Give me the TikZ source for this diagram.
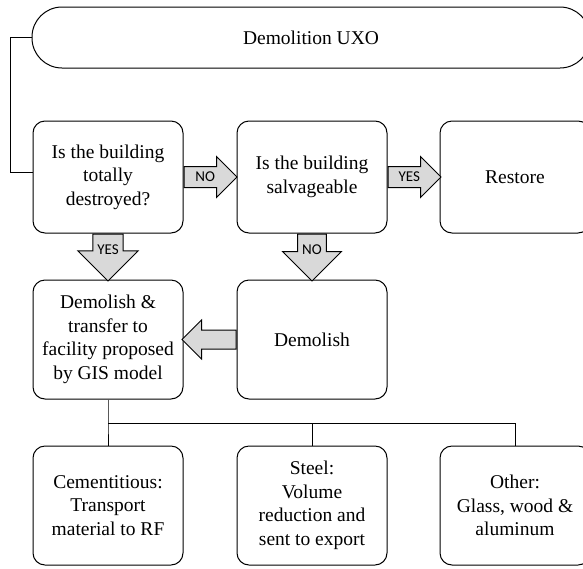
\documentclass[tikz,border=0pt]{standalone}
\usepackage{fontspec}
\setmainfont{Liberation Serif}
\newfontfamily\lblfont{Carlito}
\usetikzlibrary{shapes.arrows,calc}

\begin{document}
\begin{tikzpicture}[x=1pt, y=-1pt, line width=1pt,
	every node/.style={font=\fontsize{19.5}{23.5}\selectfont, align=center, inner sep=2pt},
	box/.style={draw, rounded corners=12pt, minimum width=150pt, minimum height=#1},
	box/.default=119pt,
	fatarrow/.style={single arrow, draw, fill=gray!30, font=\lblfont\fontsize{15}{15}\selectfont,
		single arrow head extend=10pt, text height=9pt, text depth=0pt, inner xsep=4pt, inner ysep=5.5pt,
		minimum height=#1}]
	\useasboundingbox (0,0) rectangle (583,568);

	\node (uxo) [draw, rounded corners=30pt, minimum width=558pt, minimum height=61pt] at (311,37.5) {Demolition UXO};

	\node (destroyed) [box=112pt] at (108,177) {Is the building\\totally\\destroyed?};
	\node (salvage)   [box=112pt] at (312,177) {Is the building\\salvageable};
	\node (restore)   [box=112pt] at (515,177) {Restore};

	\node (transfer)  [box] at (108,339.5) {Demolish \&\\transfer to\\facility proposed\\by GIS model};
	\node (demolish)  [box] at (312,339.5) {Demolish};

	\node (cement)    [box] at (108,505.5) {Cementitious:\\Transport\\material to RF};
	\node (steel)     [box] at (312,505.5) {Steel:\\Volume\\reduction and\\sent to export};
	\node (other)     [box] at (515,505.5) {Other:\\Glass, wood \&\\aluminum};

	% yes / no arrows
	\node (no1)  [fatarrow=53pt, anchor=tail] at (destroyed.east) {NO};
	\node (yes1) [fatarrow=53pt, anchor=tail] at (salvage.east) {YES};
	\node (yes2) [fatarrow=47pt, anchor=tail, shape border rotate=270, single arrow head extend=15pt] at (destroyed.south) {YES};
	\node (no2)  [fatarrow=47pt, anchor=tail, shape border rotate=270, single arrow head extend=15pt] at (salvage.south) {NO};
	\node (back) [fatarrow=54pt, anchor=tail, shape border rotate=180, text height=0pt, inner ysep=9pt] at (demolish.west) {};

	% connectors
	\coordinate (loop) at (10,172);
	\coordinate (split) at (108,423);
	\draw (uxo.west) -| (loop) -- (loop -| destroyed.west);
	\draw (transfer.south) -- (split) -- (cement.north);
	\draw (split) -| (steel.north);
	\draw (split) -| (other.north);
\end{tikzpicture}
\end{document}
